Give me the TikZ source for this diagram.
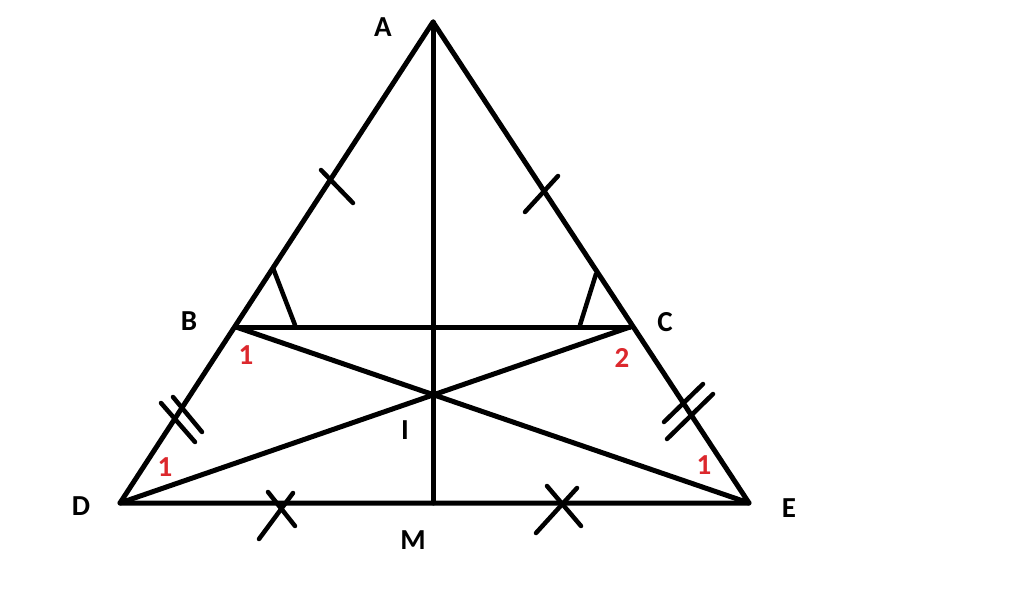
\documentclass[tikz,border=0pt]{standalone}
\usepackage{fontspec}
\setmainfont{Carlito}
\begin{document}
\begin{tikzpicture}[x=1pt,y=-1pt,
  seg/.style={line width=5pt,line cap=round,line join=round,black},
  tick/.style={line width=4.5pt,line cap=round,black},
  lab/.style={font=\fontsize{29}{29}\selectfont\bfseries,text=black,inner sep=0pt},
  num/.style={font=\fontsize{29}{29}\selectfont\bfseries,text=numred,inner sep=0pt}]
\definecolor{numred}{RGB}{220,40,45}
\useasboundingbox[fill=white] (0,0) rectangle (1024,596);
\coordinate (A) at (433,22);
\coordinate (D) at (120,503);
\coordinate (E) at (749,503);
\coordinate (M) at (433,503);
\coordinate (B) at (236,327);
\coordinate (C) at (630,327);
\coordinate (I) at (433,396);
% triangle and lines
\draw[seg] (A) -- (D) -- (E) -- cycle;
\draw[seg] (A) -- (M);
\draw[seg] (B) -- (C);
\draw[seg] (B) -- (E);
\draw[seg] (C) -- (D);
% angle marks
\coordinate (b1) at (273,268); \coordinate (b2) at (295,325);
\coordinate (c1) at (596,274); \coordinate (c2) at (580,325);
\draw[tick] (b1) -- (b2);
\draw[tick] (c1) -- (c2);
% single ticks on AB, AC
\coordinate (t1) at (321,170); \coordinate (t2) at (353,203);
\coordinate (t3) at (525,212); \coordinate (t4) at (558,176);
\draw[tick] (t1) -- (t2);
\draw[tick] (t3) -- (t4);
% double ticks on BD, CE
\coordinate (d1) at (161,403); \coordinate (d2) at (195,442);
\coordinate (d3) at (173,397); \coordinate (d4) at (202,432);
\draw[tick] (d1) -- (d2);
\draw[tick] (d3) -- (d4);
\coordinate (e1) at (664,422); \coordinate (e2) at (703,384);
\coordinate (e3) at (667,439); \coordinate (e4) at (713,394);
\draw[tick] (e1) -- (e2);
\draw[tick] (e3) -- (e4);
% cross marks on DM, ME
\coordinate (x1) at (259,539); \coordinate (x2) at (293,493);
\coordinate (x3) at (268,492); \coordinate (x4) at (295,526);
\draw[tick] (x1) -- (x2);
\draw[tick] (x3) -- (x4);
\coordinate (y1) at (536,533); \coordinate (y2) at (577,488);
\coordinate (y3) at (547,486); \coordinate (y4) at (581,526);
\draw[tick] (y1) -- (y2);
\draw[tick] (y3) -- (y4);
% labels
\node[lab] (lA) at (383,27) {A};
\node[lab] (lB) at (189,321) {B};
\node[lab] (lC) at (665,322) {C};
\node[lab] (lD) at (81,506) {D};
\node[lab] (lE) at (789,508) {E};
\node[lab] (lM) at (413,540) {M};
\node[lab] (lI) at (405,430) {I};
\node[num] (n1) at (246,355) {1};
\node[num] (n2) at (622,358) {2};
\node[num] (n3) at (165,467) {1};
\node[num] (n4) at (704,465) {1};
\end{tikzpicture}
\end{document}
